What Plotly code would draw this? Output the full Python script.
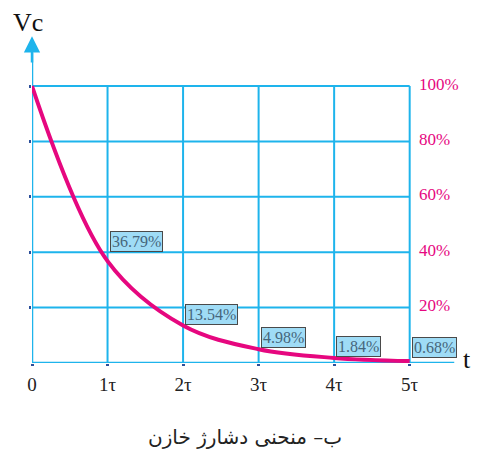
import plotly.graph_objects as go

t_vals = [0, 1, 2, 3, 4, 5]
vc_pct = [100, 36.79, 13.54, 4.98, 1.84, 0.68]
x_tick_labels = ["0", "1τ", "2τ", "3τ", "4τ", "5τ"]
y_grid_vals = [20, 40, 60, 80, 100]
y_tick_labels = ["20%", "40%", "60%", "80%", "100%"]
box_labels = ["36.79%", "13.54%", "4.98%", "1.84%", "0.68%"]

BLUE = "#1eb4ec"
MAG = "#e6077f"
SERIF = "Liberation Serif, Times New Roman, serif"

fig = go.Figure()

shapes = []
for t in t_vals[1:]:
    shapes.append(dict(type="line", xref="x", yref="y", x0=t, x1=t, y0=0, y1=100,
                       line=dict(color=BLUE, width=2), layer="below"))
for v in y_grid_vals:
    shapes.append(dict(type="line", xref="x", yref="y", x0=0, x1=5, y0=v, y1=v,
                       line=dict(color=BLUE, width=2), layer="below"))
shapes.append(dict(type="line", xref="x", yref="y", x0=0, x1=5.59, y0=0, y1=0,
                   line=dict(color=BLUE, width=2.5), layer="below"))
shapes.append(dict(type="line", xref="x", yref="y", x0=0, x1=0, y0=0, y1=112,
                   line=dict(color=BLUE, width=2.5), layer="below"))
fig.update_layout(shapes=shapes)

fig.add_trace(go.Scatter(x=t_vals, y=vc_pct, mode="lines",
                         line=dict(color=MAG, width=4, shape="spline", smoothing=1.0),
                         hoverinfo="skip", showlegend=False))

ann = []
ann.append(dict(x=0, y=118, ax=0, ay=108, xref="x", yref="y", axref="x", ayref="y",
                showarrow=True, arrowhead=2, arrowsize=1.3, arrowwidth=2.5,
                arrowcolor=BLUE, text=""))
for v, lab in zip(y_grid_vals, y_tick_labels):
    ann.append(dict(x=5, y=v, xref="x", yref="y", text=lab, showarrow=False,
                    xanchor="left", yanchor="middle", xshift=7, yshift=2,
                    font=dict(family=SERIF, size=17, color=MAG)))
yshifts = [9, 1, 1, 1, 3]
for t, v, lab, ys in zip(t_vals[1:], vc_pct[1:], box_labels, yshifts):
    ann.append(dict(x=t, y=v, xref="x", yref="y", text=lab, showarrow=False,
                    xanchor="left", yanchor="bottom", xshift=2, yshift=ys,
                    bgcolor="#9fdcf6", bordercolor="#4a4a4a", borderwidth=1, borderpad=1,
                    font=dict(family=SERIF, size=16, color="#46667c")))
ann.append(dict(x=-0.01, y=1.052, xref="paper", yref="paper", text="Vc", showarrow=False,
                xanchor="center", yanchor="middle",
                font=dict(family=SERIF, size=26, color="#111")))
ann.append(dict(x=1.028, y=0.012, xref="paper", yref="paper", text="t", showarrow=False,
                xanchor="center", yanchor="middle",
                font=dict(family=SERIF, size=26, color="#111")))
ann.append(dict(x=0.503, y=-0.228, xref="paper", yref="paper", text="ب– منحنی دشارژ خازن",
                showarrow=False, xanchor="center", yanchor="middle",
                font=dict(family="DejaVu Sans", size=20, color="#222")))
fig.update_layout(annotations=ann)

fig.update_layout(
    width=481, height=451,
    margin=dict(l=24, r=34, t=31, b=96),
    paper_bgcolor="white", plot_bgcolor="white",
    xaxis=dict(range=[0, 5.6], showgrid=False, zeroline=False, showline=False,
               tickvals=t_vals, ticktext=x_tick_labels, ticks="outside",
               ticklen=2, tickwidth=3, tickcolor="#2c4f9a",
               tickfont=dict(family=SERIF, size=19, color="#222"), ticklabelstandoff=2),
    yaxis=dict(range=[0, 117], showgrid=False, zeroline=False, showline=False,
               tickvals=y_grid_vals, showticklabels=False, ticks="outside",
               ticklen=2, tickwidth=3, tickcolor="#2c4f9a"),
)

fig.write_html("out.html")
